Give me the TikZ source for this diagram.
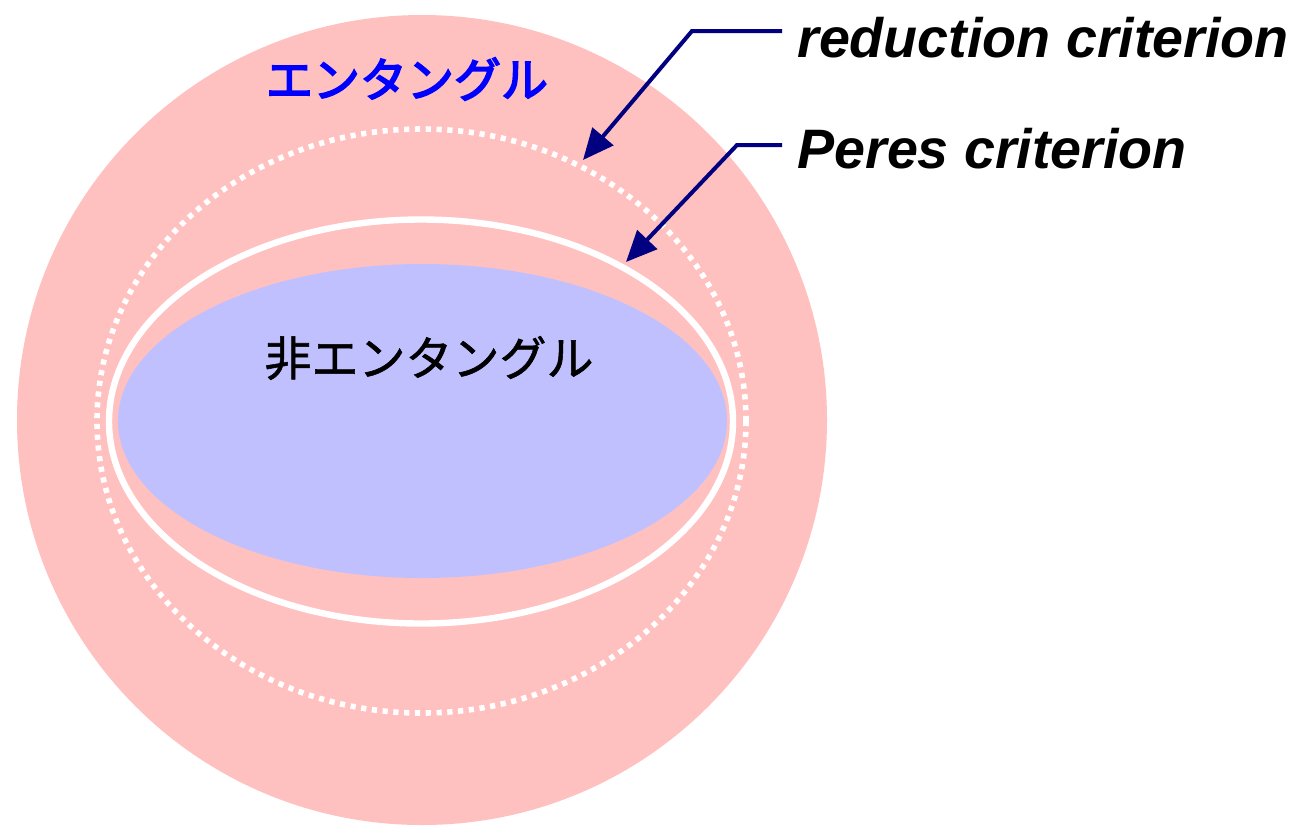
\documentclass[tikz,border=0pt]{standalone}
\usepackage{fontspec}
\setsansfont{Liberation Sans}
\newfontfamily\jpfont[FakeBold=1.2]{Noto Sans CJK JP}
\newfontfamily\jpheavy[FakeBold=3.5]{Noto Sans CJK JP}
\usetikzlibrary{arrows.meta}
\definecolor{entpink}{RGB}{255,192,192}
\definecolor{seplav}{RGB}{192,192,255}
\definecolor{pointnavy}{RGB}{0,0,128}
\definecolor{entblue}{RGB}{0,0,255}

\begin{document}
\begin{tikzpicture}[x=0.5pt,y=-0.5pt,
   crit/.style={font=\fontsize{27.8}{30}\selectfont\sffamily\bfseries\itshape,
     anchor=base west,inner xsep=7.5pt,inner ysep=0pt},
   region/.style={font=\jpfont\fontsize{23.5}{26}\selectfont,inner sep=0pt},
   pointer/.style={draw=pointnavy,line width=2pt,-{Triangle[length=15.5pt,width=13.5pt]}},
   bound/.style={draw=white,line width=3.2pt},
   boundtest/.style={draw=white,line width=2.8pt,dash pattern=on 2.6pt off 2.8pt}]
 \useasboundingbox (0,0) rectangle (1297,827);
 % regions
 \fill[entpink] (422,420) circle[radius=405];
 \draw[boundtest] (421.5,421) ellipse[x radius=324.5,y radius=292];
 \draw[bound] (421,421.5) ellipse[x radius=312,y radius=202];
 \fill[seplav] (422.5,421) ellipse[x radius=304.5,y radius=157];
 \node[region,text=entblue,font=\jpheavy\fontsize{23.5}{26}\selectfont] (ent) at (407,79) {エンタングル};
 \node[region] (sep) at (429,358) {非エンタングル};
 % criteria
 \node[crit] (redlabel) at (782,57) {reduction criterion};
 \node[crit] (pereslabel) at (782,168) {Peres criterion};
 \coordinate (redknee) at (692,31);
 \coordinate (redtip) at (583,160);
 \coordinate (pereknee) at (737,145);
 \coordinate (perestip) at (626,262);
 \draw[pointer] (redlabel.west |- redknee) -- (redknee) -- (redtip);
 \draw[pointer] (pereslabel.west |- pereknee) -- (pereknee) -- (perestip);
\end{tikzpicture}
\end{document}
